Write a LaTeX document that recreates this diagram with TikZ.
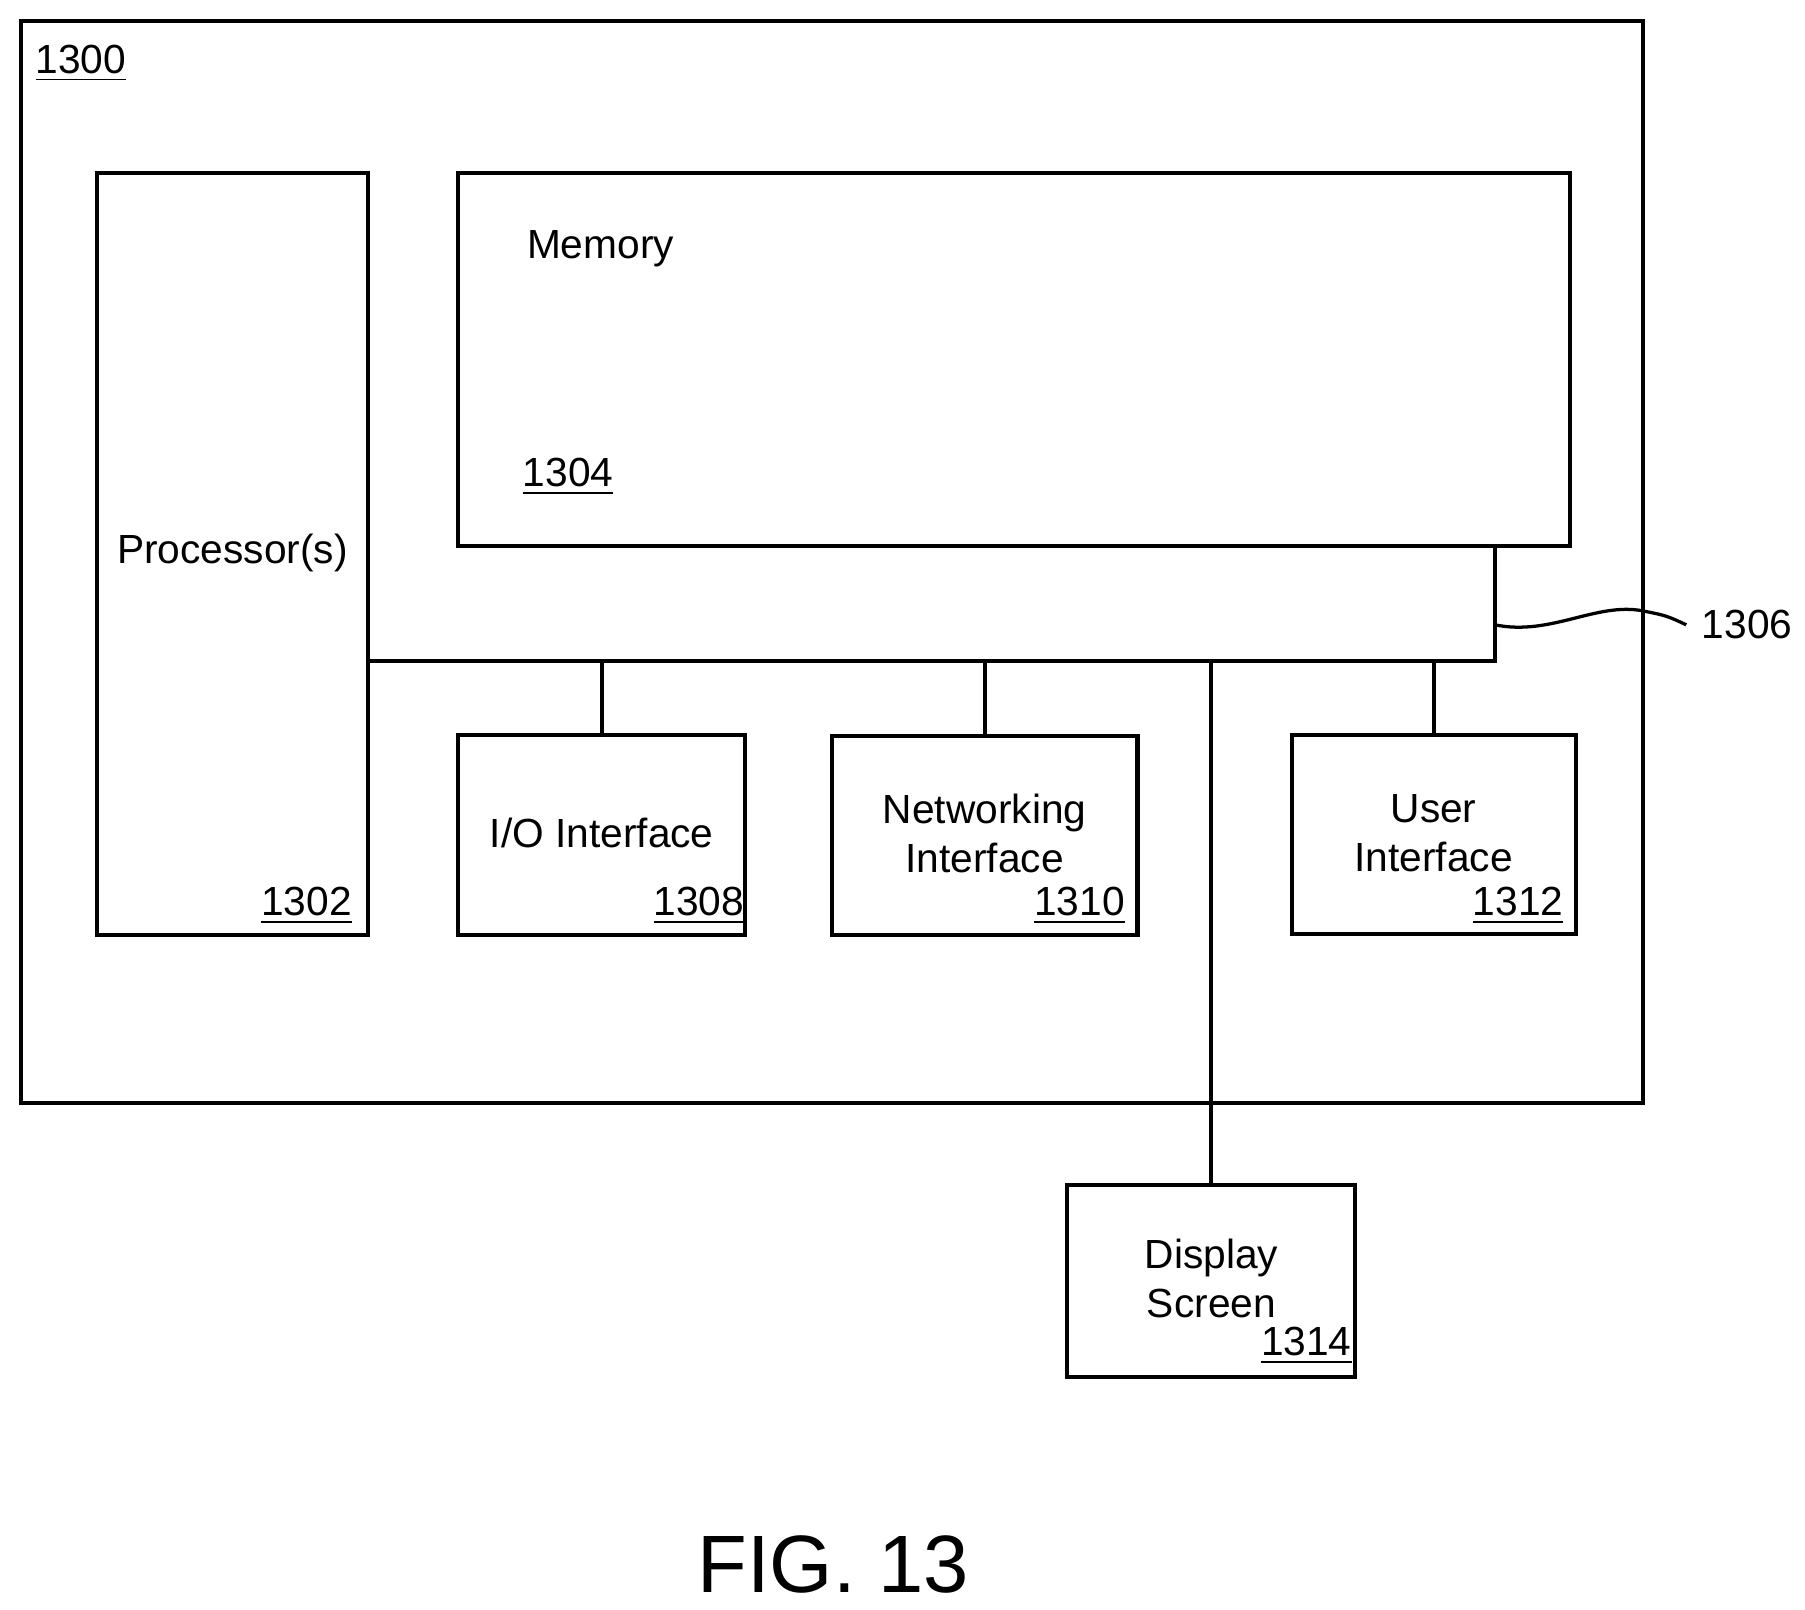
\documentclass[tikz,border=0pt]{standalone}
\usepackage{fontspec}
\setmainfont{Liberation Sans}
\usetikzlibrary{positioning}
\begin{document}
\begin{tikzpicture}[x=0.01cm, y=-0.01cm, line width=1pt,
    every node/.style={font=\fontsize{10}{12}\selectfont},
    box/.style={draw, inner sep=0pt},
    tag/.style={font=\fontsize{10}{12}\selectfont, inner sep=1pt}]
    \useasboundingbox (0,0) rectangle (1560,1391);
    % Boxes
    \draw (18,18) rectangle (1420,953);
    \node [tag] (n1300) at (70,55) {\underline{1300}};
    \node [box, minimum width=2.34cm, minimum height=6.58cm] (proc) at (201,479) {};
    \node (proct) at (201,478) {Processor(s)};
    \node [tag] at (265,783) {\underline{1302}};
    \node [box, minimum width=9.61cm, minimum height=3.22cm] (mem) at (876.5,311) {};
    \node at (519,215) {Memory};
    \node [tag] at (491,412) {\underline{1304}};
    \node [box, minimum width=2.48cm, minimum height=1.73cm] (io) at (520,721.5) {};
    \node at (520,720) {I/O Interface};
    \node [tag] at (604,783) {\underline{1308}};
    \node [box, minimum width=2.64cm, minimum height=1.72cm] (net) at (851,722) {};
    \node [align=center] at (851,720) {Networking\\Interface};
    \node [tag] at (933,783) {\underline{1310}};
    \node [box, minimum width=2.45cm, minimum height=1.72cm] (ui) at (1239.5,721) {};
    \node [align=center] at (1239,720) {User\\Interface};
    \node [tag] at (1312,783) {\underline{1312}};
    \node [box, minimum width=2.49cm, minimum height=1.66cm] (disp) at (1046.5,1107) {};
    \node [align=center] at (1047,1105) {Display\\Screen};
    \node [tag] at (1129,1163) {\underline{1314}};
    % Bus
    \coordinate (busL) at (318,571);
    \coordinate (busR) at (1292,571);
    \draw (busL) -- (busR) -- (busR |- mem.south);
    \draw (io.north) -- (io.north |- busL);
    \draw (net.north) -- (net.north |- busL);
    \draw (ui.north) -- (ui.north |- busL);
    \draw (disp.north) -- (disp.north |- busL);
    \coordinate (lead) at (1292,540);
    \node (n1306) at (1510,540) {1306};
    \draw [line width=0.8pt] (lead) .. controls (1340,550) and (1380,520) .. (1420,528) .. controls (1440,532) .. (n1306.west);
    \node [font=\fontsize{20}{24}\selectfont] (fig) at (720,1352) {FIG. 13};
\end{tikzpicture}
\end{document}
